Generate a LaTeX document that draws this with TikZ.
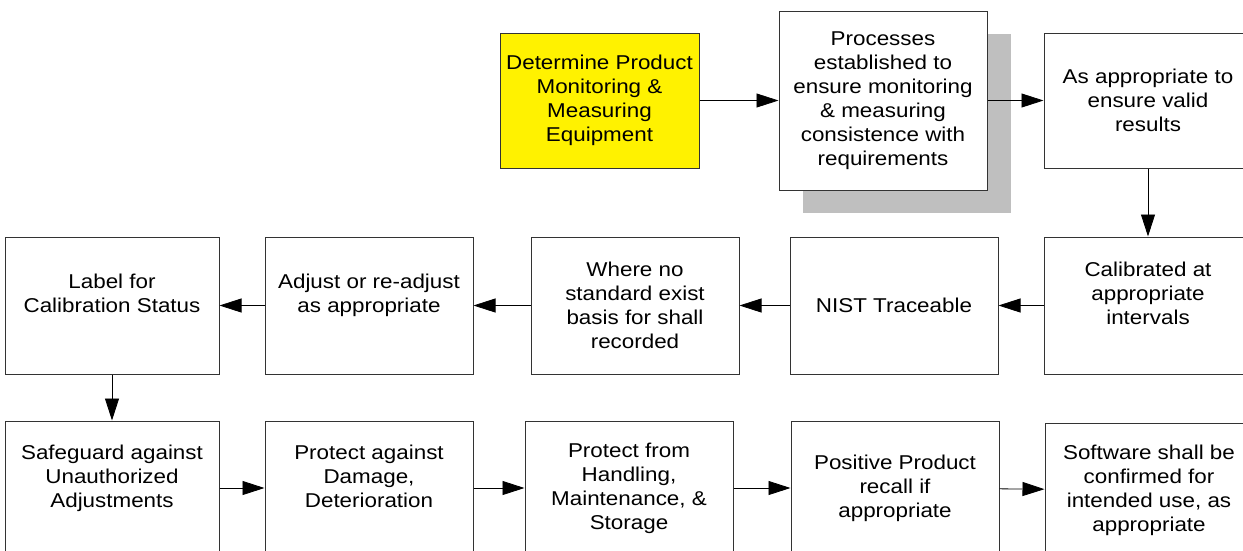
\documentclass[tikz,border=0pt]{standalone}
\usepackage{fontspec}
\setmainfont{Liberation Sans}[FakeStretch=1.12]
\usepackage{tikz}
\usetikzlibrary{arrows.meta, positioning, shadows}

\begin{document}
\begin{tikzpicture}[
    x=1pt, y=1pt,
    node distance=45pt,
    box/.style={draw=black!80, line width=1pt, rectangle, minimum height=137pt, minimum width=208pt, inner sep=3pt, align=center, fill=white, font=\fontsize{20}{24}\selectfont},
    start/.style={box, fill=yellow, minimum width=199pt, minimum height=135pt},
    link/.style={-{Triangle[length=22pt, width=14pt]}, line width=0.8pt}
]
\useasboundingbox (0,0) rectangle (1243,-550);

% Top row
\node (determine) [start] at (599.5,-100.5) {Determine Product\\ Monitoring \&\\ Measuring\\ Equipment};
\node (processes) [box, minimum height=179pt, right=79pt of determine,
    drop shadow={shadow xshift=24pt, shadow yshift=-23pt, fill=black!25, opacity=1}]
    {Processes\\ established to\\ ensure monitoring\\ \& measuring\\ consistence with\\ requirements};
\node (valid) [box, minimum height=135pt, right=56pt of processes] {As appropriate to\\ ensure valid\\ results};

% Middle row (right to left)
\node (calibrated) [box, below=68pt of valid] {Calibrated at\\ appropriate\\ intervals\\ \mbox{}};
\node (nist) [box, left=45pt of calibrated] {NIST Traceable};
\node (nostandard) [box, left=50pt of nist] {Where no\\ standard exist\\ basis for shall\\ recorded};
\node (adjust) [box, left=57pt of nostandard] {Adjust or re-adjust\\ as appropriate\\ \mbox{}};
\node (status) [box, minimum width=214pt, left=45pt of adjust] {Label for\\ Calibration Status\\ \mbox{}};

% Bottom row
\node (safeguard) [box, minimum width=214pt, minimum height=134pt, below=46pt of status] {Safeguard against\\ Unauthorized\\ Adjustments\\ \mbox{}};
\node (damage) [box, minimum height=134pt, right=45pt of safeguard] {Protect against\\ Damage,\\ Deterioration\\ \mbox{}};
\node (handling) [box, minimum height=134pt, right=51pt of damage] {Protect from\\ Handling,\\ Maintenance, \&\\ Storage};
\node (recall) [box, minimum height=134pt, right=57pt of handling] {Positive Product\\ recall if\\ appropriate};
\node (software) [box, minimum height=134pt, right=45pt of recall, yshift=-2pt] {Software shall be\\ confirmed for\\ intended use, as\\ appropriate};

% Arrows
\draw[link] (determine) -- (processes);
\draw[link] (processes) -- (valid);
\draw[link] (valid) -- (calibrated);
\draw[link] (calibrated) -- (nist);
\draw[link] (nist) -- (nostandard);
\draw[link] (nostandard) -- (adjust);
\draw[link] (adjust) -- (status);
\draw[link] (status) -- (safeguard);
\draw[link] (safeguard) -- (damage);
\draw[link] (damage) -- (handling);
\draw[link] (handling) -- (recall);
\draw[link] (recall) -- (software);

\end{tikzpicture}
\end{document}
